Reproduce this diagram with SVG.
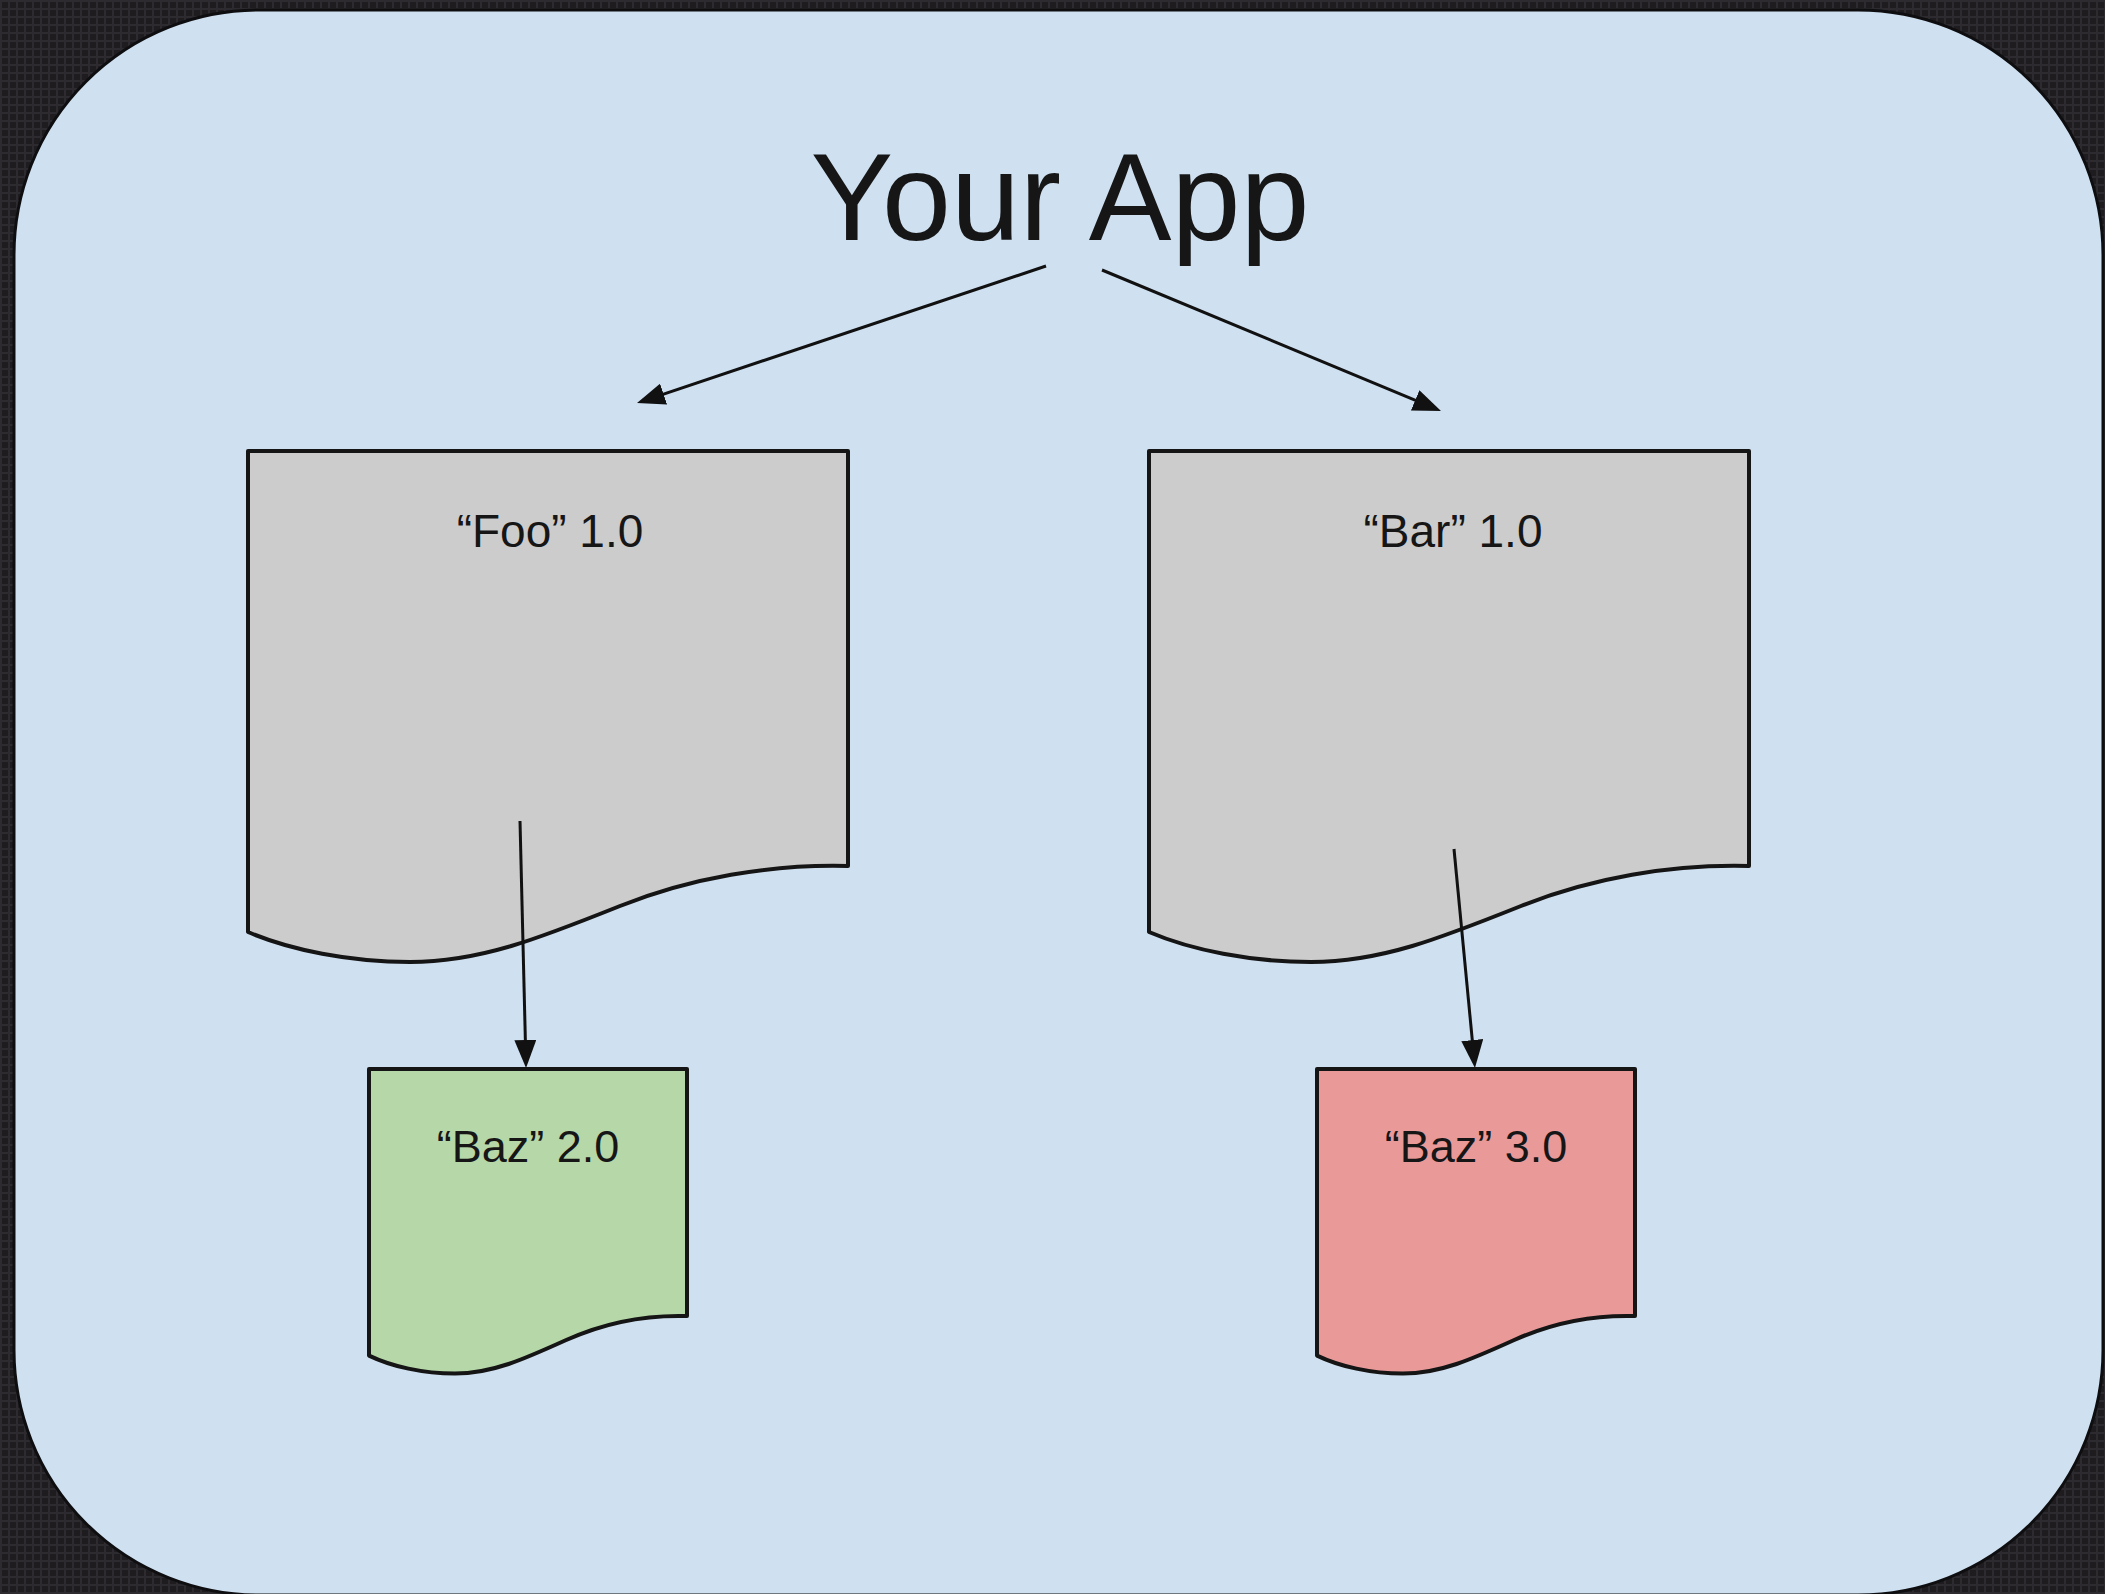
<svg xmlns="http://www.w3.org/2000/svg" width="2105" height="1594" viewBox="0 0 2105 1594">
  <style>
    .doc { stroke: #151515; stroke-width: 4; stroke-linejoin: round; }
    .gray { fill: #cccccc; }
    .green { fill: #b6d7a8; }
    .red { fill: #ea9999; }
    .label { font-family: "Liberation Sans", Arial, sans-serif; fill: #161616; text-anchor: middle; }
    .conn { stroke: #111111; stroke-width: 3; fill: none; marker-end: url(#arrow); }
  </style>
  <defs>
    <pattern id="mesh" x="0" y="0" width="8" height="8" patternUnits="userSpaceOnUse">
      <rect width="8" height="8" fill="#1f1c1f"/>
      <rect x="0" y="0" width="8" height="2" fill="#2d2b2f"/>
      <rect x="0" y="0" width="2" height="8" fill="#2d2b2f"/>
    </pattern>
    <marker id="arrow" viewBox="0 0 28 22" refX="18" refY="11" markerWidth="28" markerHeight="22" orient="auto" markerUnits="userSpaceOnUse">
      <path d="M0,0 L28,11 L0,22 Z" fill="#111111"/>
    </marker>
  </defs>

  <rect x="0" y="0" width="2105" height="1594" fill="url(#mesh)"/>
  <rect id="panel" x="14" y="10" width="2089" height="1585" rx="245" ry="245" fill="#cfe0f1" stroke="#0e0e10" stroke-width="3"/>

  <g id="your-app">
    <text class="label" x="1060" y="240" font-size="124">Your App</text>
  </g>

  <g id="foo">
    <path class="doc gray" d="M248,451 H848 V866 C770,864 690,878 620,906 C540,938 480,962 410,962 C350,962 290,950 248,932 Z"/>
    <text class="label" x="550" y="547" font-size="46">“Foo” 1.0</text>
  </g>

  <g id="bar">
    <path class="doc gray" d="M1149,451 H1749 V866 C1671,864 1591,878 1521,906 C1441,938 1381,962 1311,962 C1251,962 1191,950 1149,932 Z"/>
    <text class="label" x="1453" y="547" font-size="46">“Bar” 1.0</text>
  </g>

  <g id="baz2">
    <path class="doc green" d="M369,1069 H687 V1316 C645.7,1314.8 603.3,1323.2 566.2,1340 C523.8,1359.2 492,1373.6 454.9,1373.6 C423.1,1373.6 391.3,1366.4 369,1355.6 Z"/>
    <text class="label" x="528" y="1162" font-size="45">“Baz” 2.0</text>
  </g>

  <g id="baz3">
    <path class="doc red" d="M1317,1069 H1635 V1316 C1593.7,1314.8 1551.3,1323.2 1514.2,1340 C1471.8,1359.2 1440,1373.6 1402.9,1373.6 C1371.1,1373.6 1339.3,1366.4 1317,1355.6 Z"/>
    <text class="label" x="1476" y="1162" font-size="45">“Baz” 3.0</text>
  </g>

  <g id="connectors">
    <line class="conn" x1="1046" y1="266" x2="646.5" y2="399.8"/>
    <line class="conn" x1="1102" y1="270" x2="1431.8" y2="407.2"/>
    <line class="conn" x1="520" y1="821" x2="525.8" y2="1058"/>
    <line class="conn" x1="1454" y1="849" x2="1474" y2="1058"/>
  </g>
</svg>
